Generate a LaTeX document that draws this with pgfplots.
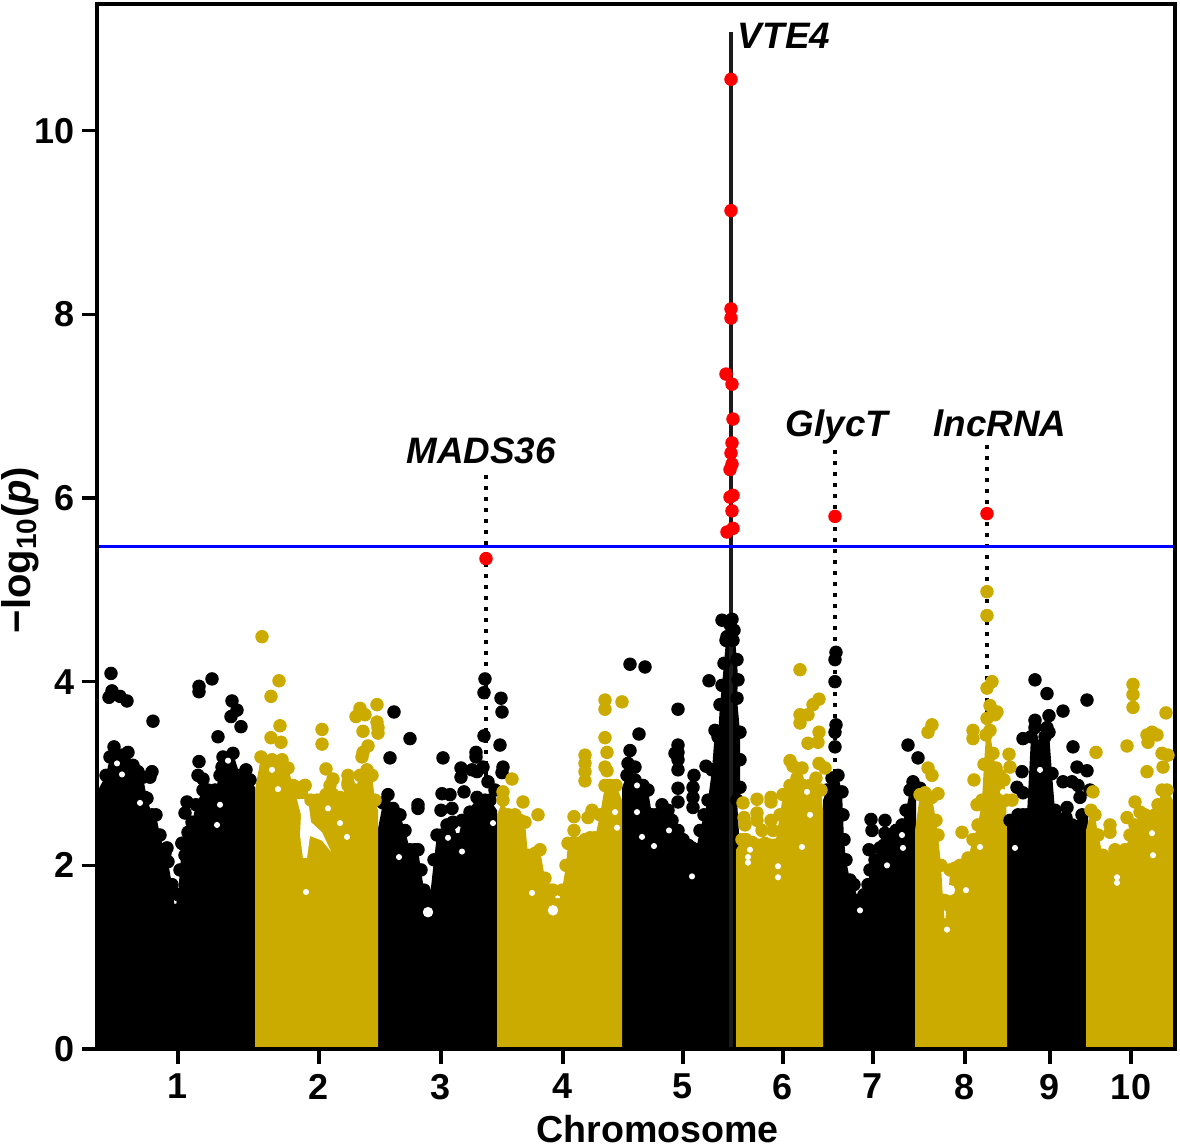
\documentclass[border=0pt]{standalone}
\usepackage{fontspec}
\setmainfont{Liberation Sans}
\usepackage{pgfplots}
\usepackage{pgfplotstable}
\pgfplotsset{compat=1.18}
\definecolor{gold}{RGB}{203,171,0}
\definecolor{vline}{RGB}{28,26,27}
\newcommand{\lab}{\fontsize{18}{20}\selectfont\bfseries}
\newcommand{\gene}{\fontsize{18.4}{20}\selectfont\bfseries\itshape}

% upper outline of the dense cloud, one table per chromosome
\pgfplotstableread{
x y
98 2.82
106 2.98
110 3.18
114 3.29
122 3.20
128 3.23
133 3.09
138 3.02
143 2.96
147 2.73
152 2.55
156 2.55
160 2.33
165 2.13
168 2.04
172 1.79
175 1.51
178 1.68
180 1.95
182 2.24
185 2.11
188 2.36
192 2.47
196 2.66
203 2.82
208 2.82
215 2.82
220 2.98
223 3.18
228 3.04
233 3.22
240 2.98
246 3.04
250 2.93
255 2.85
}\chrA
\pgfplotstableread{
x y
255 2.82
261 3.18
266 3.06
272 3.15
282 3.15
288 3.06
293 2.87
297 2.85
305 2.87
311 2.71
317 2.71
320 2.71
326 2.77
333 2.77
340 2.74
348 2.87
355 2.82
360 2.98
367 3.04
372 2.98
375 2.71
378 2.60
}\chrB
\pgfplotstableread{
x y
378 2.40
383 2.68
388 2.77
393 2.62
400 2.55
405 2.38
410 2.17
415 2.17
418 2.17
421 1.95
424 1.73
427 1.57
430 1.66
434 2.06
437 2.33
442 2.33
447 2.44
453 2.47
458 2.28
462 2.49
470 2.58
478 2.62
485 2.71
490 2.71
497 2.60
}\chrC
\pgfplotstableread{
x y
497 2.55
503 2.71
508 2.55
515 2.55
520 2.49
525 2.47
528 2.11
532 2.11
535 2.13
540 2.17
545 1.86
550 1.73
553 1.73
558 1.57
562 1.73
566 2.00
568 2.24
574 2.38
578 2.24
585 2.28
590 2.30
595 2.30
600 2.55
605 2.87
610 2.87
616 2.87
622 2.71
}\chrD
\pgfplotstableread{
x y
622 2.85
627 2.98
635 2.93
643 2.87
648 2.82
652 2.55
656 2.55
662 2.66
668 2.60
672 2.49
678 2.38
683 2.28
688 2.22
692 2.19
696 2.17
700 2.38
704 2.55
708 2.71
712 3.04
715 3.47
718 3.40
720 3.75
722 3.96
724 4.20
726 4.45
730 4.62
734 4.56
737 4.24
738 4.02
737 3.82
740 3.45
740 3.15
740 2.85
737 2.71
741 2.00
}\chrE
\pgfplotstableread{
x y
736 2.17
742 2.28
746 2.28
752 2.25
758 2.22
765 2.24
770 2.22
775 2.22
780 2.55
783 2.77
790 2.87
797 2.95
803 2.87
810 2.87
816 2.95
821 2.82
823 2.60
}\chrF
\pgfplotstableread{
x y
823 2.71
827 2.82
832 2.95
838 2.98
842 2.80
843 2.55
844 2.28
846 2.06
850 1.84
854 1.79
858 1.62
861 1.51
864 1.68
868 1.79
870 1.95
875 2.06
880 2.19
884 2.22
890 2.33
896 2.38
902 2.44
906 2.60
910 2.82
916 2.85
}\chrG
\pgfplotstableread{
x y
915 2.38
920 2.77
925 2.79
932 2.74
936 2.49
938 2.33
941 2.00
943 1.62
945 1.35
947 1.62
948 1.57
950 1.95
955 1.97
960 2.00
968 2.08
973 2.28
978 2.44
982 2.71
984 3.10
986 3.42
990 3.47
993 3.22
996 3.06
1000 2.98
1004 2.93
1006 2.71
1007 2.38
}\chrH
\pgfplotstableread{
x y
1005 2.40
1010 2.49
1018 2.55
1023 2.55
1027 2.55
1031 3.40
1035 3.50
1040 3.30
1045 3.40
1049 3.45
1052 3.00
1055 2.60
1060 2.49
1066 2.52
1072 2.44
1078 2.42
1082 2.55
1088 2.66
}\chrI
\pgfplotstableread{
x y
1086 2.38
1091 2.60
1095 2.55
1098 2.33
1103 2.11
1110 2.06
1115 2.17
1120 2.08
1125 2.17
1130 2.33
1135 2.44
1140 2.58
1145 2.55
1150 2.44
1155 2.55
1158 2.66
1162 2.82
1167 2.82
1173 2.71
}\chrJ

% single SNPs above the cloud
\pgfplotstableread{
x y
111 4.09
112 3.90
109 3.83
120 3.84
127 3.79
153 3.57
199 3.95
199 3.89
212 4.03
232 3.79
237 3.69
231 3.62
241 3.51
218 3.40
199 3.13
152 3.02
150 2.96
145 2.74
185 2.57
187 2.69
182 2.24
167 2.19
198 2.98
203 2.94
222 3.07
394 3.67
410 3.38
390 3.17
443 3.17
418 2.66
418 2.62
442 2.78
450 2.77
441 2.60
452 2.62
452 2.46
464 2.80
477 2.74
461 3.06
461 2.96
472 3.04
477 3.02
483 3.07
476 3.23
476 3.18
484 3.41
484 3.88
485 4.03
501 3.82
502 3.67
500 3.31
503 3.07
502 3.01
488 2.91
495 2.82
630 4.19
645 4.16
709 4.01
678 3.70
639 3.43
630 3.25
628 3.11
635 3.07
678 3.31
678 3.23
675 3.22
678 3.15
678 3.04
678 2.84
678 2.69
694 2.98
693 2.85
693 2.74
693 2.63
706 3.08
722 4.67
732 4.68
727 4.49
733 4.45
836 4.32
835 4.24
835 4.00
836 3.53
835 3.45
835 3.29
908 3.31
918 3.17
913 2.91
920 2.84
871 2.50
872 2.38
885 2.49
885 2.35
869 2.17
1035 4.02
1047 3.87
1049 3.63
1063 3.68
1087 3.80
1073 3.29
1077 3.07
1087 3.03
1063 2.91
1072 2.91
1078 2.87
1080 2.74
1067 2.63
1090 2.82
1035 3.58
1047 3.50
1023 3.38
1022 3.02
1017 2.85
1023 2.79
}\blackdots
\pgfplotstableread{
x y
262 4.49
279 4.01
271 3.84
280 3.52
271 3.39
281 3.34
322 3.48
322 3.32
326 3.05
377 3.75
360 3.71
365 3.64
356 3.62
377 3.56
378 3.50
378 3.44
363 3.46
368 3.30
363 3.23
362 3.18
333 2.94
330 2.87
348 2.98
348 2.90
305 2.87
512 2.94
503 2.80
523 2.69
538 2.55
574 2.53
592 2.60
588 2.52
585 3.20
585 3.11
585 3.02
585 2.92
605 3.80
605 3.70
622 3.78
605 3.39
607 3.23
605 3.07
607 3.03
800 4.13
819 3.81
813 3.75
808 3.64
800 3.64
800 3.55
819 3.45
818 3.34
808 3.33
790 3.14
793 3.08
802 3.06
819 3.11
825 3.06
743 2.68
757 2.72
771 2.74
771 2.69
757 2.57
757 2.49
744 2.52
745 2.44
771 2.49
762 2.38
773 2.38
932 3.53
928 3.45
928 3.06
932 2.98
938 2.78
973 3.47
973 3.38
974 2.93
977 2.66
962 2.36
987 4.98
987 4.72
987 3.93
992 4.00
990 3.74
997 3.67
995 3.64
987 3.60
1009 3.21
1010 3.07
1012 2.71
1093 2.80
1096 3.23
1110 2.44
1110 2.36
1127 3.30
1133 3.97
1133 3.86
1133 3.72
1166 3.66
1152 3.45
1147 3.42
1157 3.42
1148 3.34
1162 3.22
1168 3.20
1163 3.07
1147 3.02
1135 2.69
1127 2.52
}\golddots
\pgfplotstableread{
x y
731 10.56
731 9.13
731 8.06
731 7.96
726 7.35
732 7.24
733 6.86
732 6.60
731 6.49
732 6.37
730 6.31
733 6.03
730 6.01
732 5.86
733 5.67
727 5.63
486 5.34
835 5.80
987 5.83
}\reddots
% gaps the points leave open inside the cloud
\pgfplotstableread{
x y
117 3.11
122 2.99
140 2.68
220 2.66
217 2.44
228 3.14
272 3.04
278 2.83
328 2.62
340 2.46
347 2.31
306 1.71
399 2.09
448 2.30
462 2.15
493 2.46
532 1.70
615 2.58
617 2.41
637 2.58
642 2.31
654 2.21
669 2.38
692 1.88
637 2.87
778 1.99
778 1.87
802 2.20
810 2.55
807 2.80
748 2.09
750 2.17
748 2.03
903 2.19
887 2.00
902 2.33
860 1.51
966 1.73
980 2.20
1003 2.80
947 1.30
1040 3.04
1015 2.19
1152 2.35
1117 1.87
1117 1.81
1153 2.11
}\smallgaps
\pgfplotstableread{
x y
428 1.49
553 1.51
950 1.73
}\largegaps

\newcommand{\chrom}[4]{%
  \addplot[fill=#2, draw=none, forget plot] table {#1} \closedcycle;
  \addplot[only marks, mark=*, mark size=3.15pt, color=#2,
    mark options={fill=#2, draw=none},
    restrict x to domain=#3:#4, forget plot] table {#1};
}

\begin{document}
\begin{tikzpicture}
\begin{axis}[
    at={(0,0)}, anchor=south west,
    scale only axis,
    width=539pt, height=522.5pt,
    xmin=97, xmax=1175,
    ymin=0, ymax=11.38,
    axis on top,
    axis line style={line width=2pt},
    tick pos=left,
    tick align=outside,
    major tick length=7.5pt,
    tick style={line width=1.75pt, black},
    xtick={178,319,441,563,683,783,873,965,1050,1131},
    xticklabels={1,2,3,4,5,6,7,8,9,10},
    ytick={0,2,4,6,8,10},
    /pgf/number format/assume math mode=true,
    tick label style={font=\lab},
    xticklabel style={yshift=-1.5pt},
    xlabel={Chromosome},
    ylabel={−log\textsubscript{10}(\textit{p})},
    xlabel style={font=\fontsize{18.8}{20}\selectfont\bfseries, inner sep=0pt,
      at={(axis description cs:0.52,-0.0765)}, anchor=center},
    ylabel style={font=\fontsize{20}{22}\selectfont\bfseries, inner sep=0pt,
      at={(axis description cs:-0.0714,0.4775)}, anchor=center},
]
\chrom{\chrA}{black}{100.5}{254.5}
\chrom{\chrC}{black}{378.5}{496.5}
\chrom{\chrE}{black}{622.5}{740.5}
\chrom{\chrG}{black}{823.5}{915.5}
\chrom{\chrI}{black}{1005.5}{1087.5}
\addplot[only marks, mark=*, mark size=3.15pt, color=black,
  mark options={fill=black, draw=none}, forget plot] table {\blackdots};
\chrom{\chrB}{gold}{255.5}{377.5}
\chrom{\chrD}{gold}{497.5}{621.5}
\chrom{\chrF}{gold}{736.5}{822}
\chrom{\chrH}{gold}{915.5}{1006.5}
\chrom{\chrJ}{gold}{1086.5}{1172.5}
\addplot[only marks, mark=*, mark size=3.15pt, color=gold,
  mark options={fill=gold, draw=none}, forget plot] table {\golddots};

% white channel inside chromosome 2
\addplot[fill=white, draw=none, forget plot] coordinates {
  (297,2.72) (308,2.72) (311,2.47) (322,2.36) (331,2.15) (322,2.27)
  (310,2.32) (307,2.08) (303,2.08) (300,2.33) (301,2.55)} -- cycle;
\addplot[only marks, mark=*, mark size=1.3pt, color=white,
  mark options={fill=white, draw=none}, forget plot] table {\smallgaps};
\addplot[only marks, mark=*, mark size=2.4pt, color=white,
  mark options={fill=white, draw=none}, forget plot] table {\largegaps};

\addplot[vline, line width=2pt, forget plot] coordinates {(731,0) (731,11.07)};
\addplot[black, line width=2pt, dash pattern=on 2pt off 3.5pt, forget plot]
  coordinates {(486,6.25) (486,2.90)};
\addplot[black, line width=2pt, dash pattern=on 2pt off 3.5pt, forget plot]
  coordinates {(835,6.52) (835,2.60)};
\addplot[black, line width=2pt, dash pattern=on 2pt off 3.5pt, forget plot]
  coordinates {(987,6.58) (987,3.50)};
\addplot[blue, line width=1.5pt, forget plot] coordinates {(97,5.47) (1175,5.47)};
\addplot[only marks, mark=*, mark size=3.15pt, color=red,
  mark options={fill=red, draw=none}, forget plot] table {\reddots};

\node[font=\gene] at (axis cs:784,11.03) {VTE4};
\node[font=\gene] at (axis cs:481,6.51) {MADS36};
\node[font=\gene] at (axis cs:837,6.77) {GlycT};
\node[font=\gene] at (axis cs:1000,6.81) {lncRNA};
\end{axis}
\pgfresetboundingbox
\path (-48.5pt,-49pt) rectangle (541.5pt,524.5pt);
\end{tikzpicture}
\end{document}
